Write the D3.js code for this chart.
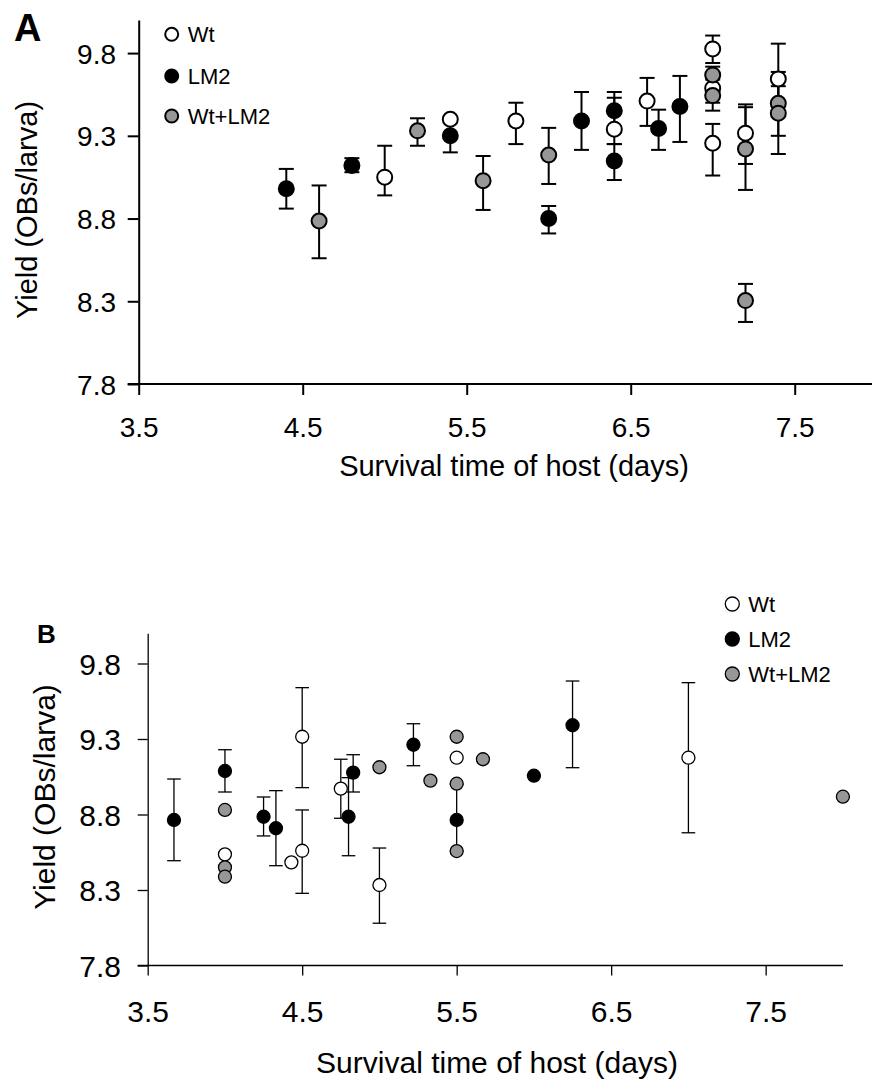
<!DOCTYPE html>
<html><head><meta charset="utf-8">
<script src="https://cdn.jsdelivr.net/npm/d3@7"></script>
<style>body{margin:0;background:#fff}svg{display:block}text{font-family:"Liberation Sans",Arial,sans-serif;fill:#000}</style>
</head><body>
<svg id="c" width="872" height="1083"></svg>
<script>
// ---------- Data ----------
const seriesNames = ["Wt", "LM2", "Wt+LM2"];
const xTicks = [3.5, 4.5, 5.5, 6.5, 7.5];
const yTicks = [7.8, 8.3, 8.8, 9.3, 9.8];

// Panel A
const aWtX  = [5.0, 5.4, 5.8, 6.4, 6.6, 7.0, 7.0, 7.0, 7.2, 7.4];
const aWtY  = [9.05, 9.40, 9.39, 9.34, 9.51, 9.825, 9.588, 9.255, 9.316, 9.644];
const aWtLo = [8.94, null, 9.25, 9.25, 9.36, 9.74, 9.50, 9.06, 9.13, 9.43];
const aWtHi = [9.24, null, 9.50, 9.53, 9.65, 9.906, 9.68, 9.372, 9.49, 9.857];

const aLmX  = [4.4, 4.8, 5.4, 6.0, 6.2, 6.4, 6.4, 6.67, 6.8];
const aLmY  = [8.98, 9.12, 9.30, 8.80, 9.39, 9.452, 9.148, 9.344, 9.477];
const aLmLo = [8.86, 9.08, 9.20, 8.71, 9.215, 9.34, 9.033, 9.215, 9.263];
const aLmHi = [9.10, 9.165, 9.40, 8.876, 9.565, 9.565, 9.25, 9.458, 9.662];

const aMixX  = [4.6, 5.2, 5.6, 6.0, 7.0, 7.0, 7.2, 7.2, 7.4, 7.4];
const aMixY  = [8.785, 9.33, 9.029, 9.184, 9.668, 9.543, 9.221, 8.304, 9.497, 9.437];
const aMixLo = [8.56, 9.24, 8.852, 9.009, 9.60, 9.452, 8.973, 8.175, 9.30, 9.19];
const aMixHi = [9.00, 9.406, 9.178, 9.348, 9.718, 9.64, 9.473, 8.405, 9.686, 9.60];

// Panel B
const bWtX  = [4.0, 4.43, 4.5, 4.5, 4.75, 5.0, 5.5, 7.0];
const bWtY  = [8.536, 8.483, 9.315, 8.560, 8.971, 8.333, 9.176, 9.176];
const bWtLo = [null, null, 8.978, 8.278, 8.775, 8.08, null, 8.679];
const bWtHi = [null, null, 9.640, 8.830, 9.166, 8.578, null, 9.673];

const bLmX  = [3.67, 4.0, 4.25, 4.33, 4.80, 4.83, 5.22, 5.5, 6.0, 6.25];
const bLmY  = [8.764, 9.088, 8.785, 8.709, 8.785, 9.077, 9.262, 8.764, 9.057, 9.391];
const bLmLo = [8.494, 8.949, 8.658, 8.461, 8.527, 8.949, 9.123, 8.56, null, 9.110];
const bLmHi = [9.035, 9.229, 8.916, 8.958, 9.044, 9.196, 9.401, 9.0, null, 9.684];

const bMixX = [4.0, 4.0, 4.0, 5.0, 5.33, 5.5, 5.5, 5.5, 5.67, 8.0];
const bMixY = [8.830, 8.450, 8.388, 9.113, 9.024, 9.315, 9.004, 8.558, 9.166, 8.918];

// ---------- Drawing ----------
const svg = d3.select("#c");
const fills = ["#ffffff", "#000000", "#979797"];

function panel(cfg) {
  const g = svg.append("g");
  const x = d3.scaleLinear().domain(cfg.xDom).range(cfg.xRange);
  const y = d3.scaleLinear().domain([7.8, 10.0]).range(cfg.yRange);
  const sw = cfg.sw;

  // axes
  const xa = g.append("g").attr("transform", `translate(0,${cfg.yRange[0]})`)
    .call(d3.axisBottom(x).tickValues(xTicks).tickSize(cfg.tick).tickSizeOuter(0).tickFormat(d3.format(".1f")));
  xa.select(".domain").attr("stroke-width", sw).attr("d", `M${cfg.xRange[0] - cfg.tick},0H${cfg.xRange[1]}`);
  xa.selectAll(".tick line").attr("stroke-width", sw);
  xa.selectAll(".tick text").attr("y", cfg.xLabBase - cfg.yRange[0]).attr("dy", null)
    .style("font-size", cfg.tickFont + "px").style("font-family", '"Liberation Sans",Arial,sans-serif');

  const ya = g.append("g").attr("transform", `translate(${cfg.xRange[0]},0)`)
    .call(d3.axisLeft(y).tickValues(yTicks).tickSize(cfg.tick).tickSizeOuter(0).tickFormat(d3.format(".1f")));
  ya.select(".domain").attr("stroke-width", sw);
  ya.selectAll(".tick line").attr("stroke-width", sw);
  ya.selectAll(".tick text").attr("x", cfg.yLabRight - cfg.xRange[0]).attr("dy", "0.36em")
    .style("font-size", cfg.tickFont + "px").style("font-family", '"Liberation Sans",Arial,sans-serif');
  g.selectAll(".domain").attr("stroke", "#000");

  // error bars
  cfg.series.forEach(s => {
    s.x.forEach((xv, i) => {
      if (!s.lo || s.lo[i] == null) return;
      const cx = x(xv), y1 = y(s.lo[i]), y2 = y(s.hi[i]);
      g.append("line").attr("x1", cx).attr("x2", cx).attr("y1", y1).attr("y2", y2)
        .attr("stroke", "#000").attr("stroke-width", sw);
      [y1, y2].forEach(yy => g.append("line").attr("x1", cx - cfg.cap).attr("x2", cx + cfg.cap)
        .attr("y1", yy).attr("y2", yy).attr("stroke", "#000").attr("stroke-width", sw));
    });
  });
  // circles
  cfg.series.forEach((s, k) => {
    g.selectAll(null).data(s.x.map((xv, i) => [xv, s.y[i]])).enter().append("circle")
      .attr("cx", d => x(d[0])).attr("cy", d => y(d[1])).attr("r", cfg.r)
      .attr("fill", fills[k]).attr("stroke", "#000").attr("stroke-width", sw);
  });

  // legend
  seriesNames.forEach((n, k) => {
    g.append("circle").attr("cx", cfg.legX).attr("cy", cfg.legY[k]).attr("r", cfg.legR)
      .attr("fill", fills[k]).attr("stroke", "#000").attr("stroke-width", sw);
    g.append("text").attr("x", cfg.legX + 16).attr("y", cfg.legY[k] + 8)
      .style("font-size", "22px").text(n);
  });

  // titles
  g.append("text").attr("x", cfg.xTitle[0]).attr("y", cfg.xTitle[1]).attr("text-anchor", "middle")
    .style("font-size", cfg.titleFont + "px").text("Survival time of host (days)");
  g.append("text").attr("transform", `translate(${cfg.yTitle[0]},${cfg.yTitle[1]}) rotate(-90)`)
    .attr("text-anchor", "middle").style("font-size", cfg.titleFont + "px").text("Yield (OBs/larva)");
  g.append("text").attr("x", cfg.letter[0]).attr("y", cfg.letter[1]).style("font-weight", "bold")
    .style("font-size", cfg.letterFont + "px").text(cfg.letterText);
}

panel({
  xDom: [3.5, 8.0], xRange: [138.7, 876.7], yRange: [384, 20], sw: 2, tick: 11, cap: 7.5, r: 7.5,
  tickFont: 28, xLabBase: 437, yLabRight: 116,
  series: [{x: aWtX, y: aWtY, lo: aWtLo, hi: aWtHi}, {x: aLmX, y: aLmY, lo: aLmLo, hi: aLmHi}, {x: aMixX, y: aMixY, lo: aMixLo, hi: aMixHi}],
  legX: 171.7, legY: [34.3, 76, 116], legR: 6.5,
  xTitle: [514, 476], yTitle: [37, 210], titleFont: 29,
  letter: [14, 40.7], letterFont: 38, letterText: "A"
});

panel({
  xDom: [3.5, 8.0], xRange: [147.7, 842.9], yRange: [965.5, 633.3], sw: 1.3, tick: 10, cap: 6.8, r: 6.5,
  tickFont: 30, xLabBase: 1021.5, yLabRight: 121,
  series: [{x: bWtX, y: bWtY, lo: bWtLo, hi: bWtHi}, {x: bLmX, y: bLmY, lo: bLmLo, hi: bLmHi}, {x: bMixX, y: bMixY}],
  legX: 732.3, legY: [604, 639, 674], legR: 7,
  xTitle: [497, 1073], yTitle: [55, 797], titleFont: 30,
  letter: [37, 642.7], letterFont: 26, letterText: "B"
});
</script>
</body></html>
